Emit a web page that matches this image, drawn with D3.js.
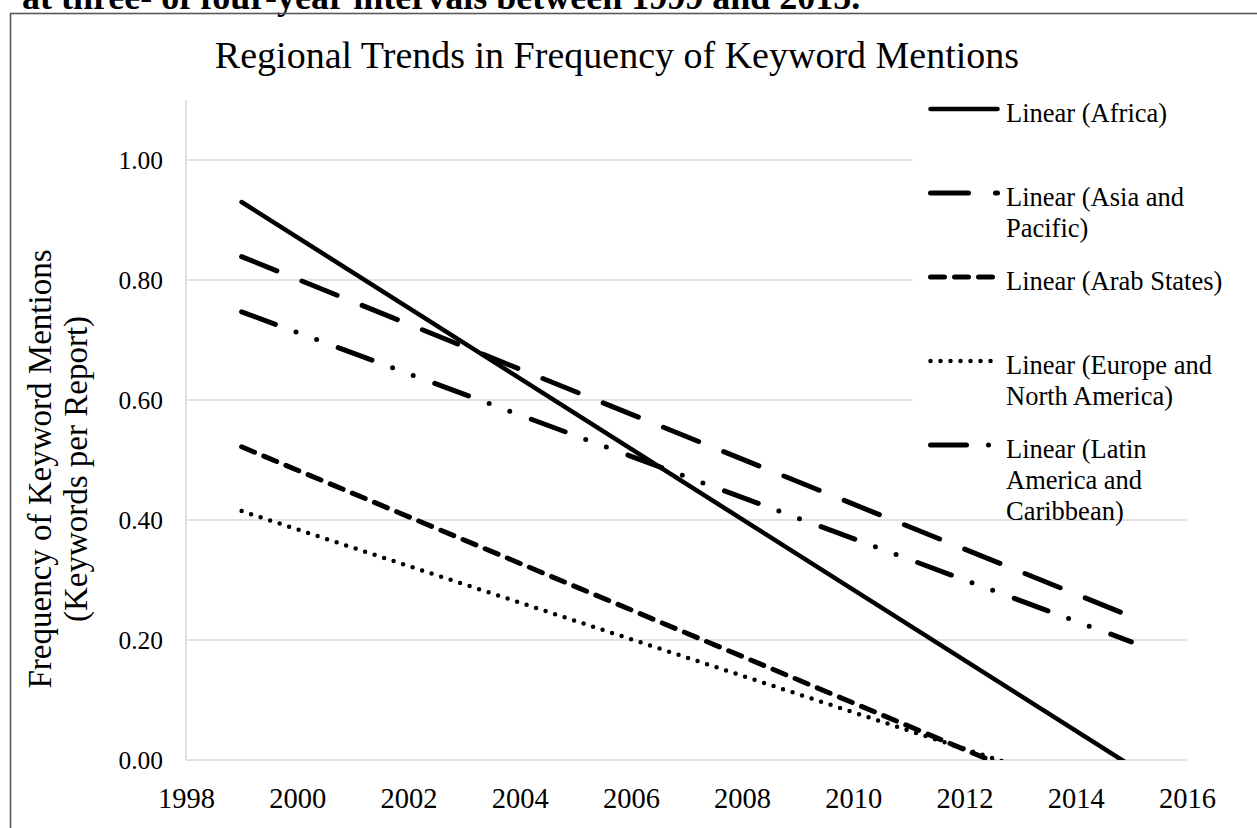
<!DOCTYPE html>
<html>
<head>
<meta charset="utf-8">
<script src="https://cdn.jsdelivr.net/npm/d3@7"></script>
<style>
  html, body { margin: 0; padding: 0; background: #fff; }
  svg { display: block; }
  text { font-family: "Liberation Serif", "Times New Roman", serif; fill: #000; }
</style>
</head>
<body>
<svg id="chart" width="1257" height="828"></svg>
<script>
// ---- data ----
const chartTitle = "Regional Trends in Frequency of Keyword Mentions";
const topCaption = "at three- of four-year intervals between 1999 and 2015.";
const yAxisTitle = ["Frequency of Keyword Mentions", "(Keywords per Report)"];
const series = ["Africa", "Asia and Pacific", "Arab States", "Europe and North America", "Latin America and Caribbean"];
const legendLabels = [
  ["Linear (Africa)"],
  ["Linear (Asia and", "Pacific)"],
  ["Linear (Arab States)"],
  ["Linear (Europe and", "North America)"],
  ["Linear (Latin", "America and", "Caribbean)"]
];
const trendYears = [1999, 2015];
const africa   = [0.930, -0.010];
const asia     = [0.839, 0.239];
const arab     = [0.522, -0.099];
const europe   = [0.415, -0.073];
const latin    = [0.747, 0.197];
const xTicks = [1998, 2000, 2002, 2004, 2006, 2008, 2010, 2012, 2014, 2016];
const yTicks = [0, 0.2, 0.4, 0.6, 0.8, 1.0];

const values = [africa, asia, arab, europe, latin];
const styles = [
  { dash: null, w: 4.5 },
  { dash: "38,27", w: 5 },
  { dash: "14,10", w: 5 },
  { dash: "0,10", w: 4.5 },
  { dash: "36,22,0,22,0,23", w: 5 }
];

const svg = d3.select("#chart");
const x = d3.scaleLinear().domain([1998, 2016]).range([186, 1187]);
const y = d3.scaleLinear().domain([0, 1.1]).range([760, 100]);

// caption (cut off at top, as in the source page)
svg.append("text").attr("x", 22).attr("y", 9)
  .style("font-size", "36px").style("font-weight", "bold").text(topCaption);

// frame
svg.append("rect").attr("x", 10.5).attr("y", 13.5).attr("width", 1270).attr("height", 840)
  .attr("fill", "none").attr("stroke", "#595959").attr("stroke-width", 1.6);

// title
svg.append("text").attr("x", 617).attr("y", 68).attr("text-anchor", "middle")
  .style("font-size", "38px").text(chartTitle);

// gridlines
const legendLeft = 913, legendBottom = 516;
svg.append("g").selectAll("line").data(yTicks.filter(d => d > 0)).join("line")
  .attr("x1", x(1998))
  .attr("x2", d => y(d) < legendBottom ? legendLeft : x(2016))
  .attr("y1", d => y(d)).attr("y2", d => y(d))
  .attr("stroke", "#d9d9d9").attr("stroke-width", 1.5);

// axes lines
svg.append("line").attr("x1", x(1998)).attr("x2", x(1998)).attr("y1", y(1.1)).attr("y2", y(0))
  .attr("stroke", "#d9d9d9").attr("stroke-width", 1.5);
svg.append("line").attr("x1", x(1998)).attr("x2", x(2016)).attr("y1", y(0)).attr("y2", y(0))
  .attr("stroke", "#d9d9d9").attr("stroke-width", 1.5);

// y tick labels
const yAxis = d3.axisLeft(y).tickValues(yTicks).tickFormat(d3.format(".2f")).tickSize(0).tickPadding(23);
const gy = svg.append("g").attr("transform", `translate(${x(1998)},0)`).call(yAxis);
gy.select(".domain").remove();
gy.selectAll("text").style("font-size", "25.5px").style("font-family", "Liberation Serif").attr("dy", "0.33em");

// x tick labels
const xAxis = d3.axisBottom(x).tickValues(xTicks).tickFormat(d3.format("d")).tickSize(0).tickPadding(28);
const gx = svg.append("g").attr("transform", `translate(0,${y(0)})`).call(xAxis);
gx.select(".domain").remove();
gx.selectAll("text").style("font-size", "28.5px").style("font-family", "Liberation Serif");

// y axis title
const yt = svg.append("text").attr("transform", "translate(51,469) rotate(-90)")
  .attr("text-anchor", "middle").style("font-size", "33px");
yt.append("tspan").attr("x", 0).attr("dy", 0).text(yAxisTitle[0]);
yt.append("tspan").attr("x", 0).attr("dy", 36).text(yAxisTitle[1]);

// clip
svg.append("clipPath").attr("id", "plotclip").append("rect")
  .attr("x", x(1998)).attr("y", y(1.1)).attr("width", x(2016) - x(1998)).attr("height", y(0) - y(1.1));

const line = d3.line().x(d => x(d[0])).y(d => y(d[1]));
const gl = svg.append("g").attr("clip-path", "url(#plotclip)");
values.forEach((v, i) => {
  gl.append("path")
    .attr("d", line(trendYears.map((yr, j) => [yr, v[j]])))
    .attr("fill", "none").attr("stroke", "#000")
    .attr("stroke-width", styles[i].w)
    .attr("stroke-linecap", "round")
    .attr("stroke-dasharray", styles[i].dash);
});

// legend
const lg = svg.append("g");
lg.append("rect").attr("x", legendLeft).attr("y", 85).attr("width", 330).attr("height", legendBottom - 85 - 2)
  .attr("fill", "#fff");
legendLabels.forEach((lines, i) => {
  const ly = 109 + i * 84;
  lg.append("line").attr("x1", 930.5).attr("x2", 997.5).attr("y1", ly).attr("y2", ly)
    .attr("stroke", "#000").attr("stroke-width", styles[i].w)
    .attr("stroke-linecap", "round").attr("stroke-dasharray", styles[i].dash);
  const t = lg.append("text").attr("x", 1006).attr("y", ly + 12.5).style("font-size", "26.5px");
  lines.forEach((s, k) => t.append("tspan").attr("x", 1006).attr("dy", k === 0 ? 0 : 31).text(s));
});
</script>
</body>
</html>
